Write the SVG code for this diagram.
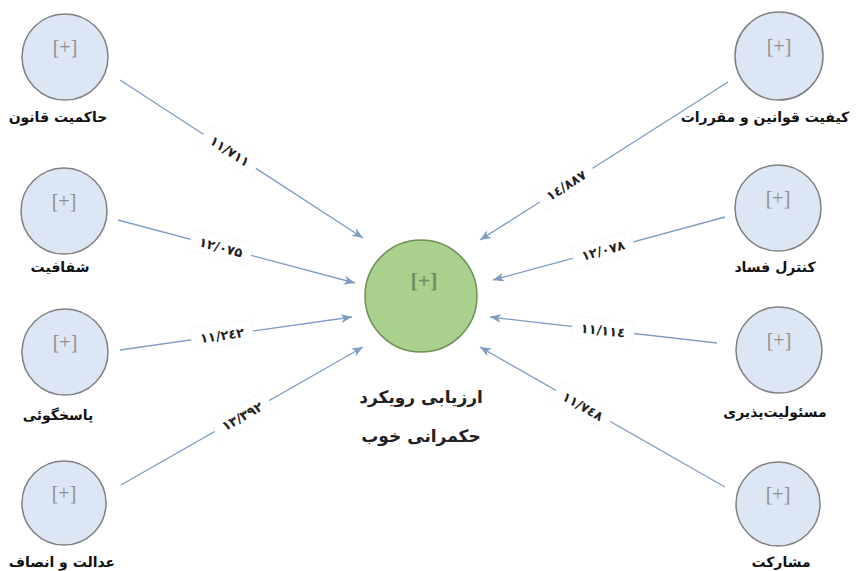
<svg xmlns="http://www.w3.org/2000/svg" width="868" height="571" viewBox="0 0 868 571">
<style>
.node{fill:#dce6f4;stroke:#808080;stroke-width:1.5}
.hub{fill:#a9d18e;stroke:#6f8f57;stroke-width:1.5}
.plus{font-family:"Liberation Serif",serif;font-size:20px;fill:#8f8f8f;text-anchor:middle}
.hubplus{font-family:"Liberation Serif",serif;font-size:22px;fill:#6f8f60;text-anchor:middle;font-weight:bold}
.lbl{font-family:"DejaVu Sans",sans-serif;font-weight:bold;font-size:14px;fill:#111;text-anchor:middle}
.hublbl{font-family:"DejaVu Sans",sans-serif;font-weight:bold;font-size:17px;fill:#222;text-anchor:middle}
.edge{stroke:#7f9cc2;stroke-width:1.3;fill:none;marker-end:url(#arr)}
.ebox{fill:#fff;stroke:#edf1f6;stroke-width:1;stroke-dasharray:1.5 1.5}
.etxt{font-family:"DejaVu Sans",sans-serif;font-weight:bold;font-size:13px;fill:#222;text-anchor:middle}
</style>
<defs>
<marker id="arr" markerUnits="userSpaceOnUse" markerWidth="12" markerHeight="10" refX="11" refY="4.5" orient="auto">
<path d="M0,0 L11,4.5 L0,9 L3,4.5 z" fill="#7f9cc2"/>
</marker>
</defs>
<g id="connectors">
<g id="e1"><line class="edge" x1="120" y1="80" x2="363" y2="238"/><g transform="translate(230,151) rotate(33)"><rect class="ebox" x="-31" y="-11" width="62" height="22"/><text class="etxt" y="5" direction="ltr" unicode-bidi="bidi-override">۱۱/۷۱۱</text></g></g>
<g id="e2"><line class="edge" x1="118" y1="220" x2="355" y2="283"/><g transform="translate(221,247) rotate(14.9)"><rect class="ebox" x="-31" y="-11" width="62" height="22"/><text class="etxt" y="5" direction="ltr" unicode-bidi="bidi-override">۱۲/۰۷۵</text></g></g>
<g id="e3"><line class="edge" x1="120" y1="350" x2="352" y2="317"/><g transform="translate(222,335) rotate(-8.1)"><rect class="ebox" x="-31" y="-11" width="62" height="22"/><text class="etxt" y="5" direction="ltr" unicode-bidi="bidi-override">۱۱/۲٤۲</text></g></g>
<g id="e4"><line class="edge" x1="121" y1="485" x2="363" y2="347"/><g transform="translate(242,416) rotate(-29.7)"><rect class="ebox" x="-31" y="-11" width="62" height="22"/><text class="etxt" y="5" direction="ltr" unicode-bidi="bidi-override">۱۳/۳۹۲</text></g></g>
<g id="e5"><line class="edge" x1="728" y1="82" x2="480" y2="240"/><g transform="translate(566,185) rotate(-32.5)"><rect class="ebox" x="-31" y="-11" width="62" height="22"/><text class="etxt" y="5" direction="ltr" unicode-bidi="bidi-override">۱٤/۸۸۷</text></g></g>
<g id="e6"><line class="edge" x1="725" y1="217" x2="493" y2="280"/><g transform="translate(603,250) rotate(-15.2)"><rect class="ebox" x="-31" y="-11" width="62" height="22"/><text class="etxt" y="5" direction="ltr" unicode-bidi="bidi-override">۱۲/۰۷۸</text></g></g>
<g id="e7"><line class="edge" x1="717" y1="343" x2="490" y2="317"/><g transform="translate(603,330) rotate(6.5)"><rect class="ebox" x="-31" y="-11" width="62" height="22"/><text class="etxt" y="5" direction="ltr" unicode-bidi="bidi-override">۱۱/۱۱٤</text></g></g>
<g id="e8"><line class="edge" x1="725" y1="487" x2="480" y2="347"/><g transform="translate(583,406) rotate(29.7)"><rect class="ebox" x="-31" y="-11" width="62" height="22"/><text class="etxt" y="5" direction="ltr" unicode-bidi="bidi-override">۱۱/۷٤۸</text></g></g>
</g>
<g id="hub"><circle class="hub" cx="421" cy="296" r="56"/><text class="hubplus" x="424" y="288">[+]</text><text class="hublbl" x="421" y="403">ارزیابی رویکرد</text><text class="hublbl" x="421" y="442">حکمرانی خوب</text></g>
<g id="n1"><circle class="node" cx="65" cy="57" r="43"/><text class="plus" x="65" y="54">[+]</text><text class="lbl" x="58" y="122">حاکمیت قانون</text></g>
<g id="n2"><circle class="node" cx="64" cy="211" r="43"/><text class="plus" x="64" y="208">[+]</text><text class="lbl" x="60" y="272">شفافیت</text></g>
<g id="n3"><circle class="node" cx="65" cy="352" r="43"/><text class="plus" x="65" y="349">[+]</text><text class="lbl" x="58" y="420">پاسخگوئی</text></g>
<g id="n4"><circle class="node" cx="64" cy="503" r="42"/><text class="plus" x="64" y="500">[+]</text><text class="lbl" x="62" y="567">عدالت و انصاف</text></g>
<g id="n5"><circle class="node" cx="779" cy="56" r="44"/><text class="plus" x="779" y="53">[+]</text><text class="lbl" x="765" y="122">کیفیت قوانین و مقررات</text></g>
<g id="n6"><circle class="node" cx="778" cy="208" r="43"/><text class="plus" x="778" y="205">[+]</text><text class="lbl" x="775" y="272">کنترل فساد</text></g>
<g id="n7"><circle class="node" cx="779" cy="350" r="43"/><text class="plus" x="779" y="347">[+]</text><text class="lbl" x="775" y="417">مسئولیت‌پذیری</text></g>
<g id="n8"><circle class="node" cx="778" cy="504" r="42"/><text class="plus" x="778" y="501">[+]</text><text class="lbl" x="781" y="567">مشارکت</text></g>
</svg>
